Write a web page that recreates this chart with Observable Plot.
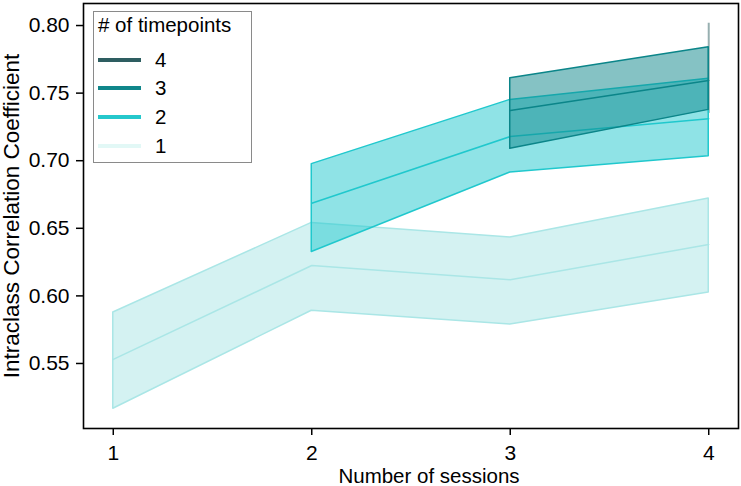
<!DOCTYPE html>
<html><head><meta charset="utf-8">
<script src="https://cdn.jsdelivr.net/npm/d3@7"></script>
<script src="https://cdn.jsdelivr.net/npm/@observablehq/plot@0.6"></script>
<style>
body{margin:0;background:#fff;font-family:"Liberation Sans",Arial,sans-serif;}
#wrap{position:relative;width:741px;height:486px;overflow:hidden;}
#legend{position:absolute;left:93px;top:11px;width:157px;height:150px;border:1.5px solid #8a8a8a;background:#fff;font-size:20.5px;color:#000;}
#legend .title{position:absolute;left:4px;top:2px;line-height:22px;white-space:nowrap;font-size:20.5px;}
#legend .row{position:absolute;left:4px;height:22px;display:flex;align-items:center;line-height:22px;}
#legend .sw{width:43px;height:3.5px;margin-right:14px;}
</style></head>
<body><div id="wrap"><div id="chart"></div><div id="legend"></div></div>
<script>
// Number of sessions (x) per series, keyed by # of timepoints
const sessions1 = [1, 2, 3, 4];
const mean1 = [0.553, 0.6225, 0.612, 0.638];
const lo1 = [0.5165, 0.589, 0.5788, 0.6025];
const hi1 = [0.5877, 0.654, 0.6432, 0.672];

const sessions2 = [2, 3, 4];
const mean2 = [0.6685, 0.7179, 0.731];
const lo2 = [0.6325, 0.6913, 0.7033];
const hi2 = [0.6975, 0.745, 0.7606];

const sessions3 = [3, 4];
const mean3 = [0.7371, 0.7593];
const lo3 = [0.7088, 0.7376];
const hi3 = [0.761, 0.784];

const sessions4 = [4];
const lo4 = [0.735];
const hi4 = [0.8017];

const legendLabels = ["4", "3", "2", "1"];
const legendColors = ["#2e5e61", "#10868a", "#25c8cc", "#e2f8f6"];
const xTicks = [1, 2, 3, 4];
const yTicks = [0.55, 0.60, 0.65, 0.70, 0.75, 0.80];
const xLabel = "Number of sessions";
const yLabel = "Intraclass Correlation Coefficient";
const legendTitle = "# of timepoints";

const c1 = "#aae6e6", c2 = "#20c8cd", c3 = "#0b8589", c4 = "#97afb0";

const tab = (x, m, lo, hi) => x.map((s, i) => ({s, m: m ? m[i] : null, lo: lo[i], hi: hi[i]}));
const t1 = tab(sessions1, mean1, lo1, hi1);
const t2 = tab(sessions2, mean2, lo2, hi2);
const t3 = tab(sessions3, mean3, lo3, hi3);
const t4 = tab(sessions4, null, lo4, hi4);

const font = "'Liberation Sans', Arial, sans-serif";
const chart = Plot.plot({
  width: 741, height: 486,
  marginLeft: 83, marginRight: 3, marginTop: 3, marginBottom: 58,
  style: {fontFamily: font, fontSize: "20px", color: "black", background: "white"},
  x: {domain: [0.85, 4.15], label: null},
  y: {domain: [0.5019, 0.8163], label: null},
  marks: [
    Plot.ruleX(t4, {x: "s", y1: "lo", y2: "hi", stroke: c4, strokeWidth: 2}),
    Plot.areaY(t1, {x: "s", y1: "lo", y2: "hi", fill: c1, fillOpacity: 0.5, stroke: c1, strokeWidth: 1.5}),
    Plot.lineY(t1, {x: "s", y: "m", stroke: c1, strokeWidth: 1.5}),
    Plot.areaY(t2, {x: "s", y1: "lo", y2: "hi", fill: c2, fillOpacity: 0.5, stroke: c2, strokeWidth: 1.5}),
    Plot.lineY(t2, {x: "s", y: "m", stroke: c2, strokeWidth: 1.5}),
    Plot.areaY(t3, {x: "s", y1: "lo", y2: "hi", fill: c3, fillOpacity: 0.5, stroke: c3, strokeWidth: 1.5}),
    Plot.lineY(t3, {x: "s", y: "m", stroke: c3, strokeWidth: 1.5}),
    Plot.axisX({ticks: xTicks, tickFormat: d => String(d), tickSize: 7, tickPadding: 10, strokeWidth: 1.5, fontSize: 21, label: null}),
    Plot.axisY({ticks: yTicks, tickFormat: d3.format(".2f"), tickSize: 7, tickPadding: 7, strokeWidth: 1.5, fontSize: 21, label: null}),
    Plot.frame({stroke: "black", strokeWidth: 1.6}),
    Plot.text([xLabel], {frameAnchor: "bottom", dx: 18, dy: 54, textAnchor: "middle", text: d => d, fontSize: 20.5}),
    Plot.text([yLabel], {frameAnchor: "left", dx: -72, textAnchor: "middle", rotate: -90, text: d => d, fontSize: 22.5})
  ]
});
document.getElementById("chart").appendChild(chart);

const lg = document.getElementById("legend");
const title = document.createElement("div");
title.className = "title"; title.textContent = legendTitle; lg.appendChild(title);
const rowTops = [37, 65, 94, 123];
legendLabels.forEach((lab, i) => {
  const r = document.createElement("div");
  r.className = "row"; r.style.top = rowTops[i] + "px";
  const sw = document.createElement("div");
  sw.className = "sw"; sw.style.background = legendColors[i];
  const tx = document.createElement("span"); tx.textContent = lab;
  r.appendChild(sw); r.appendChild(tx); lg.appendChild(r);
});
</script></body></html>
